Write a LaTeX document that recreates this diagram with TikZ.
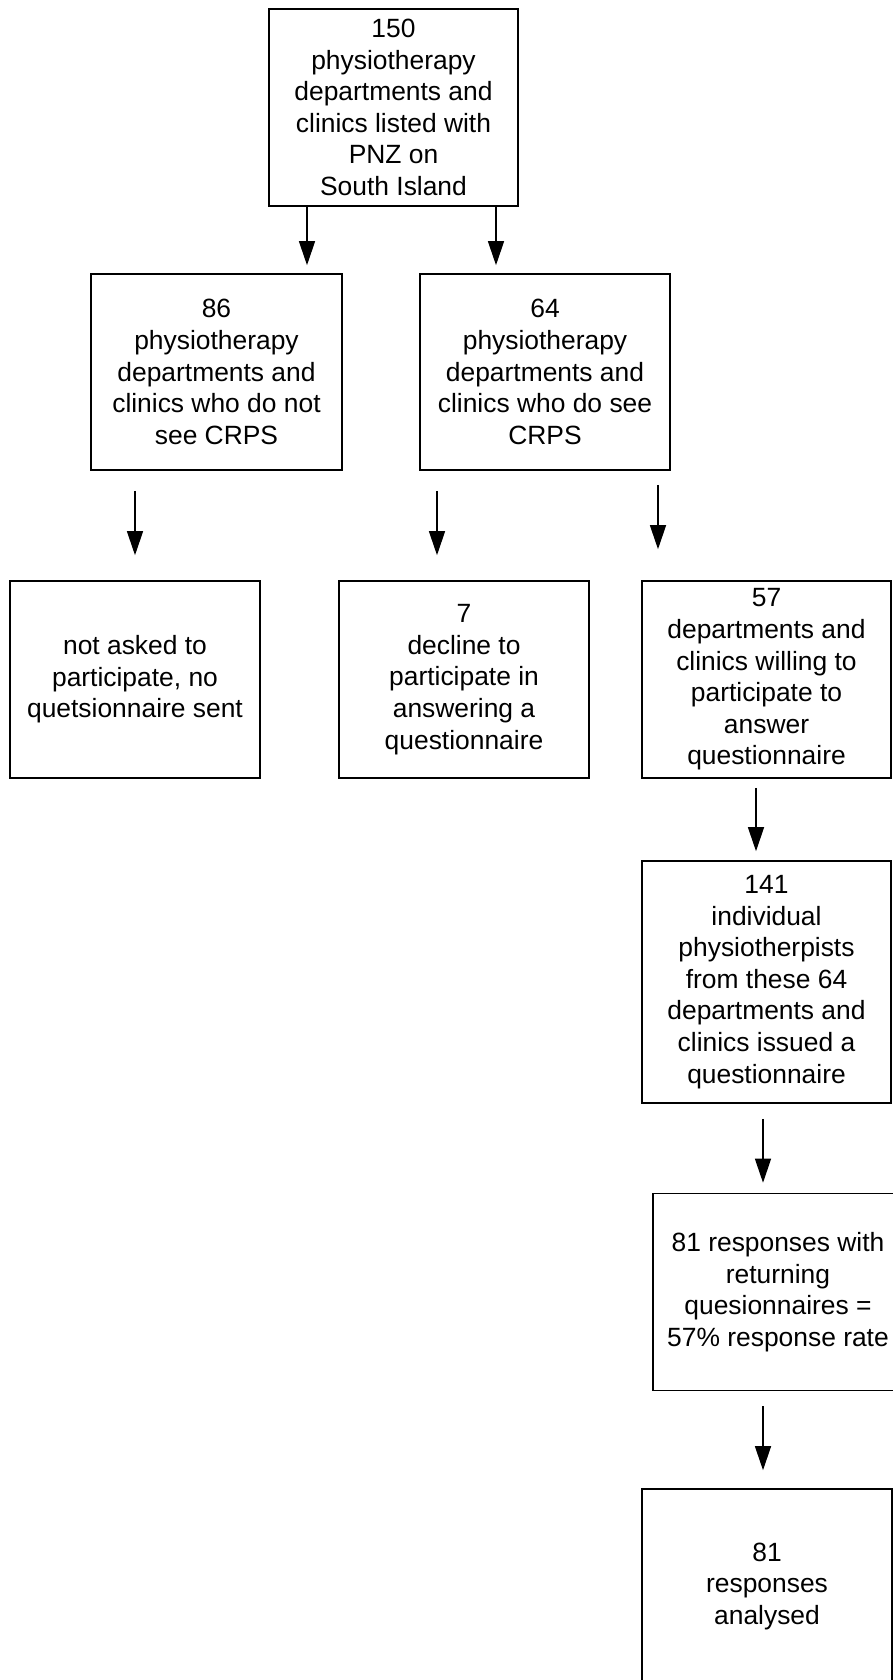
\documentclass[tikz,border=0pt]{standalone}
\usepackage{fontspec}
\setmainfont{Liberation Sans}
\usetikzlibrary{arrows.meta}
\tikzset{
  box/.style={draw, line width=1.6pt, align=center, inner sep=0pt,
    minimum width=#1, font=\fontsize{26.4}{31.6}\selectfont},
  box/.default=250pt,
  arr/.style={line width=1.3pt, -{Triangle[length=24pt,width=16pt]}}
}
\begin{document}
\begin{tikzpicture}[x=1pt,y=-1pt]
\clip (0,0) rectangle (893,1680);
\fill[white] (0,0) rectangle (893,1680);
\node[box=249pt, minimum height=197pt] (top) at (393.5,107.5) {150\\physiotherapy\\departments and\\clinics listed with\\PNZ on\\South Island};
\node[box=251pt, minimum height=196pt] (b86) at (216.5,372) {86\\physiotherapy\\departments and\\clinics who do not\\see CRPS};
\node[box=250pt, minimum height=196pt] (b64) at (545,372) {64\\physiotherapy\\departments and\\clinics who do see\\CRPS};
\node[box=250pt, minimum height=197pt] (nask) at (135,679.5) {not asked to\\participate, no\\quetsionnaire sent};
\node[box=250pt, minimum height=197pt] (decl) at (464,679.5) {7\\decline to\\participate in\\answering a\\questionnaire};
\node[box=249pt, minimum height=197pt] (will) at (766.5,679.5) {57\\departments and\\clinics willing to\\participate to\\answer\\questionnaire};
\node[box=249pt, minimum height=242pt] (b141) at (766.5,982) {141\\individual\\physiotherpists\\from these 64\\departments and\\clinics issued a\\questionnaire};
\node[box=250pt, minimum height=197pt] (b81) at (778,1292) {81 responses with\\returning\\quesionnaires =\\57\% response rate};
\node[box=250pt, minimum height=195pt] (last) at (767,1586.5) {81\\responses\\analysed};

\draw[arr, shorten >=8pt] ([xshift=-86.5pt]top.south) -- ([xshift=90.5pt]b86.north);
\draw[arr, shorten >=8pt] ([xshift=102.5pt]top.south) -- ([xshift=-49pt]b64.north);
\draw[arr, shorten <=20pt, shorten >=25pt] ([xshift=-81.5pt]b86.south) -- (nask.north);
\draw[arr, shorten <=20pt, shorten >=25pt] ([xshift=-108pt]b64.south) -- ([xshift=-27pt]decl.north);
\draw[arr, shorten <=14pt, shorten >=31pt] ([xshift=113pt]b64.south) -- ([xshift=-108.5pt]will.north);
\draw[arr, shorten <=9pt, shorten >=9pt] ([xshift=-10.5pt]will.south) -- ([xshift=-10.5pt]b141.north);
\draw[arr, shorten <=15pt, shorten >=10pt] ([xshift=-3.5pt]b141.south) -- ([xshift=-15pt]b81.north);
\draw[arr, shorten <=15pt, shorten >=18pt] ([xshift=-15pt]b81.south) -- ([xshift=-4pt]last.north);
\end{tikzpicture}
\end{document}
